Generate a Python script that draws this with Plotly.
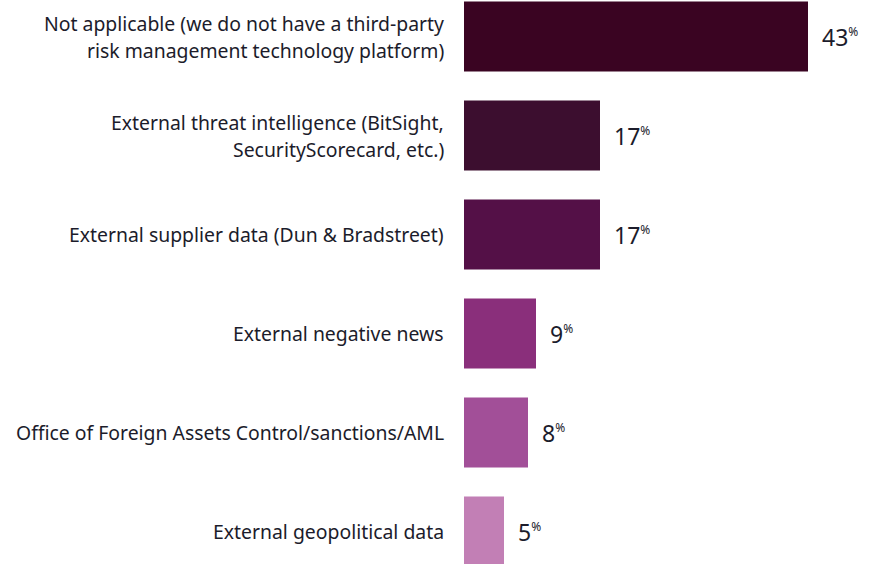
import plotly.graph_objects as go

categories = [
    "Not applicable (we do not have a third-party<br>risk management technology platform)",
    "External threat intelligence (BitSight,<br>SecurityScorecard, etc.)",
    "External supplier data (Dun & Bradstreet)",
    "External negative news",
    "Office of Foreign Assets Control/sanctions/AML",
    "External geopolitical data",
]
values = [43, 17, 17, 9, 8, 5]
colors = ["#3a0422", "#3c0e2f", "#541047", "#8a2f7b", "#a24f98", "#c27fb5"]

pos = list(range(len(categories)))
text_color = "#1c1c2b"
font_family = "Noto Sans, Open Sans, sans-serif"

fig = go.Figure()
fig.add_trace(go.Bar(
    x=values, y=pos, orientation="h",
    marker=dict(color=colors, line=dict(width=0)),
    width=0.707, hoverinfo="skip",
))

annotations = []
line_h = 27
for i, (cat, v) in enumerate(zip(categories, values)):
    lines = cat.split("<br>")
    n = len(lines)
    for j, ln in enumerate(lines):
        offset = ((n - 1) / 2 - j) * line_h
        annotations.append(dict(
            x=0, y=i, xref="x", yref="y", text=ln, showarrow=False,
            xanchor="right", yanchor="middle", xshift=-18, yshift=offset,
            font=dict(size=19.4, color=text_color, family=font_family),
        ))
    annotations.append(dict(
        x=v, y=i, xref="x", yref="y",
        text=f"{v}<sup><span style='font-size:12px'>%</span></sup>",
        showarrow=False, xanchor="left", yanchor="middle", xshift=12,
        font=dict(size=23, color=text_color, family=font_family),
    ))

fig.update_layout(
    width=874, height=564,
    margin=dict(l=464, r=10, t=0, b=0),
    paper_bgcolor="white", plot_bgcolor="white",
    showlegend=False,
    xaxis=dict(range=[0, 50], visible=False, fixedrange=True),
    yaxis=dict(range=[5.328, -0.369], visible=False, fixedrange=True),
    annotations=annotations,
)

fig.write_html("out.html")
